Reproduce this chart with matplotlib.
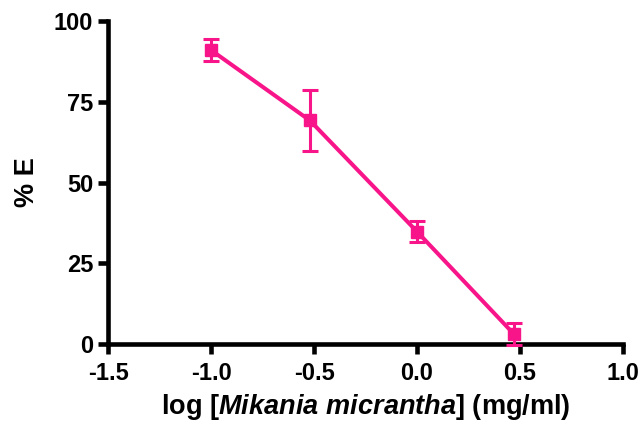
import matplotlib
matplotlib.use("Agg")
import matplotlib.pyplot as plt

log_conc = [-1.0, -0.52, 0.0, 0.47]
pct_e = [91.0, 69.2, 34.8, 3.1]
err = [3.3, 9.3, 3.2, 3.3]
xticks = [-1.5, -1.0, -0.5, 0.0, 0.5, 1.0]
xticklabels = ["-1.5", "-1.0", "-0.5", "0.0", "0.5", "1.0"]
yticks = [0, 25, 50, 75, 100]

plt.rcParams['font.family'] = ['Liberation Sans', 'DejaVu Sans']
plt.rcParams['font.weight'] = 'bold'
plt.rcParams['mathtext.fontset'] = 'custom'
plt.rcParams['mathtext.it'] = 'Liberation Sans:italic:bold'
plt.rcParams['mathtext.rm'] = 'Liberation Sans:bold'

color = '#F8158A'
fig = plt.figure(figsize=(6.42, 4.23), dpi=100)
ax = fig.add_axes([108/642, 1-344/423, (623-108)/642, (344-21)/423])

ax.errorbar(log_conc, pct_e, yerr=err, color=color, lw=2.9, marker='s', ms=9,
            capsize=5.5, capthick=2.2, elinewidth=2.2, clip_on=False, zorder=3)

ax.set_xlim(-1.5, 1.0)
ax.set_ylim(0, 100)
ax.set_xticks(xticks)
ax.set_xticklabels(xticklabels)
ax.set_yticks(yticks)
for s in ['top', 'right']:
    ax.spines[s].set_visible(False)
for s in ['left', 'bottom']:
    ax.spines[s].set_linewidth(3.3)
ax.tick_params(width=3.3, length=7.2, labelsize=17, direction='out')
ax.tick_params(axis='x', pad=5.5)
ax.tick_params(axis='y', pad=3.5)
for lab in ax.get_xticklabels() + ax.get_yticklabels():
    lab.set_fontweight('bold')

ax.set_ylabel('% E', fontsize=19.5, fontweight='bold', labelpad=10)
ax.set_xlabel(r'log [$\mathit{Mikania\ micrantha}$] (mg/ml)', fontsize=19.5,
              fontweight='bold', labelpad=5.5)

fig.savefig('out.png', dpi=100)
